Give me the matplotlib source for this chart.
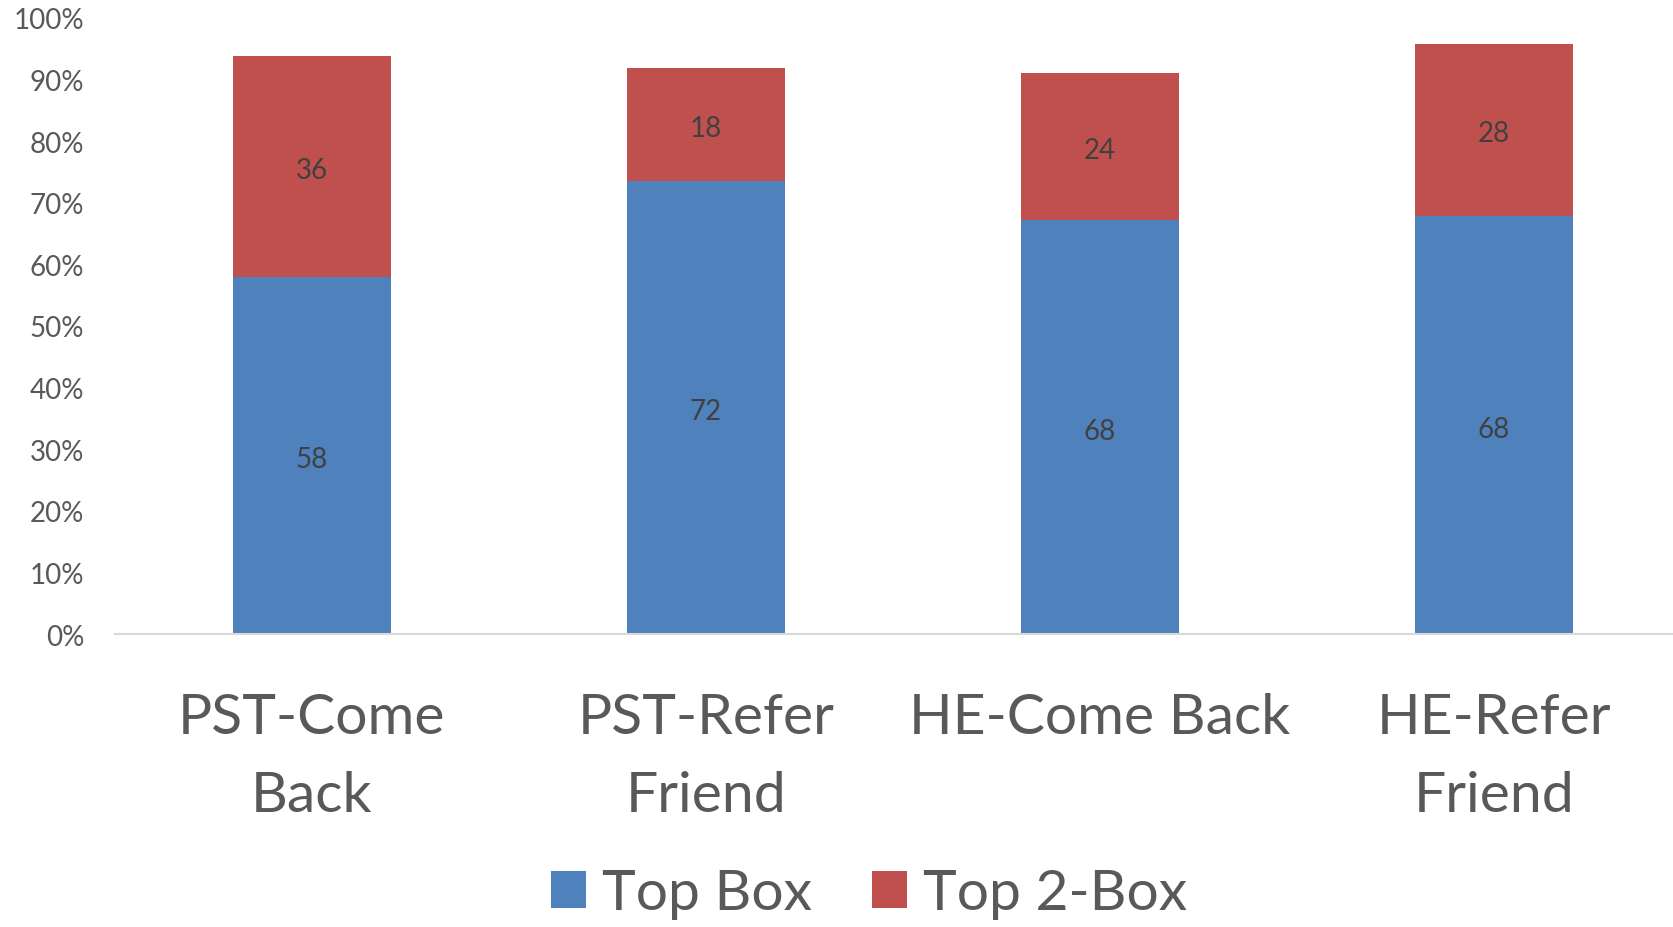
import matplotlib
matplotlib.use('Agg')
import matplotlib.pyplot as plt
from matplotlib.ticker import PercentFormatter

# bar heights (%), printed labels as shown in the chart
categories = ['PST-Come\nBack', 'PST-Refer\nFriend', 'HE-Come Back', 'HE-Refer\nFriend']
top_box = [57.9, 73.5, 67.2, 67.9]
top_2box = [36.0, 18.4, 23.8, 27.9]
top_box_labels = ['58', '72', '68', '68']
top_2box_labels = ['36', '18', '24', '28']

plt.rcParams['font.family'] = ['Lato', 'DejaVu Sans']

fig = plt.figure(figsize=(16.74, 9.28), dpi=100)
ax = fig.add_axes([115 / 1674, 1 - 635 / 928, 4 * 394 / 1674, (635 - 19) / 928])

x = list(range(len(categories)))
b1 = ax.bar(x, top_box, width=0.4, color='#4F81BD', label='Top Box')
b2 = ax.bar(x, top_2box, width=0.4, bottom=top_box, color='#C0504D', label='Top 2-Box')

for i in x:
    ax.text(i, top_box[i] / 2 - 0.6, top_box_labels[i], ha='center', va='center',
            fontsize=20, color='#404040')
    ax.text(i, top_box[i] + top_2box[i] / 2 - 0.6, top_2box_labels[i], ha='center', va='center',
            fontsize=20, color='#404040')

ax.set_xlim(-0.5, 3.5)
ax.set_ylim(0, 100)
ax.set_yticks(range(0, 101, 10))
ax.yaxis.set_major_formatter(PercentFormatter(decimals=0))
ax.set_xticks(x)
ax.set_xticklabels(categories, linespacing=1.65)

for s in ['top', 'right', 'left']:
    ax.spines[s].set_visible(False)
ax.spines['bottom'].set_color('#D9D9D9')
ax.spines['bottom'].set_linewidth(1.5)

ax.tick_params(axis='y', length=0, labelsize=20, labelcolor='#595959', pad=22)
ax.tick_params(axis='x', length=0, labelsize=41, labelcolor='#595959', pad=42)

fig.legend(handles=[b1, b2], loc='center', bbox_to_anchor=(869 / 1674, 1 - 895 / 928),
           ncol=2, frameon=False, fontsize=41, labelcolor='#595959',
           handlelength=0.62, handleheight=0.62, handletextpad=0.28, columnspacing=1.05)

fig.savefig('out.png', dpi=100)
